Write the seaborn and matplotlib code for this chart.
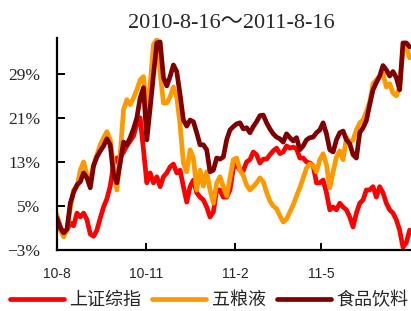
import matplotlib
matplotlib.use("Agg")
import matplotlib.pyplot as plt
from matplotlib.lines import Line2D
import seaborn as sns
import pandas as pd
import numpy as np

series_names = ["上证综指", "五粮液", "食品饮料"]
colors = ["#FF0000", "#FF9900", "#800000"]

sh_index = [3.0, 1.2, -0.1, 0.6, 1.9, 1.4, 3.7, 3.0, 3.7, 2.5, -0.1, -0.5, 0.6, 2.8, 4.8, 6.3, 8.6, 12.5, 13.7, 13.9,
            14.8, 15.9, 16.8, 17.7, 19.9, 21.0, 15.2, 9.2, 11.0, 9.2, 10.3, 8.5, 10.3, 11.0, 12.1, 12.6, 11.0, 11.5, 8.5, 5.7,
            8.5, 9.7, 7.4, 6.6, 6.1, 4.8, 3.0, 3.9, 7.9, 7.9, 6.6, 6.6, 7.9, 11.9, 12.5, 11.5, 11.4, 13.0, 13.4, 14.8,
            14.3, 12.8, 13.5, 13.5, 14.3, 15.0, 15.5, 14.5, 14.8, 15.9, 15.5, 15.7, 15.4, 13.7, 13.7, 13.0, 12.8, 12.3, 9.2, 9.2,
            9.7, 7.4, 4.3, 4.8, 4.3, 5.5, 4.8, 4.3, 3.0, 1.2, 3.7, 5.5, 6.1, 7.9, 7.9, 8.5, 6.6, 8.5, 7.4, 5.5,
            4.3, 3.7, 2.5, 0.6, -2.5, -1.7, 0.6]

wuliangye = [3.4, 0.6, -0.6, 0.6, 4.6, 7.9, 8.5, 11.5, 13.0, 10.6, 9.7, 12.5, 14.3, 16.1, 17.4, 18.5, 17.0, 12.5, 7.9, 14.3,
             22.5, 24.3, 23.4, 24.6, 26.1, 27.9, 28.5, 22.5, 27.0, 34.3, 35.2, 29.2, 23.7, 23.7, 24.8, 26.6, 24.8, 19.7, 12.8, 11.2,
             15.2, 13.7, 7.9, 11.5, 8.6, 11.2, 7.9, 5.5, 9.2, 10.3, 8.5, 6.8, 10.1, 13.4, 13.7, 11.5, 10.5, 8.8, 7.9, 8.5,
             9.2, 10.1, 9.4, 7.5, 5.9, 5.0, 4.5, 3.2, 2.1, 2.6, 3.9, 5.2, 6.8, 8.3, 10.1, 11.9, 12.6, 12.3, 11.2, 13.4,
             14.5, 12.5, 8.3, 11.2, 13.9, 15.0, 13.4, 17.4, 16.6, 17.0, 18.8, 20.1, 20.6, 22.1, 23.9, 27.2, 27.9, 28.5, 29.0, 26.6,
             27.2, 25.5, 25.0, 26.5, 33.4, 33.9, 31.9]

food_bev = [2.8, 1.0, 0.1, 0.8, 5.5, 7.5, 8.8, 9.4, 11.0, 10.1, 8.3, 12.3, 13.9, 15.0, 15.9, 17.2, 16.1, 10.6, 9.2, 12.8,
            16.6, 16.1, 17.4, 19.0, 21.0, 24.6, 26.5, 17.0, 22.8, 28.8, 34.6, 34.8, 28.3, 26.8, 28.5, 30.6, 29.4, 25.2, 20.6, 19.5,
            20.6, 20.3, 18.3, 16.1, 16.1, 15.2, 11.2, 11.5, 13.7, 13.5, 13.9, 17.0, 18.8, 19.4, 19.9, 20.1, 19.0, 19.2, 18.3, 19.4,
            20.3, 21.4, 21.5, 20.1, 19.0, 18.1, 17.5, 17.2, 16.6, 18.1, 17.4, 16.8, 17.4, 15.2, 15.9, 17.0, 17.4, 17.5, 18.3, 18.8,
            20.1, 18.1, 15.2, 14.8, 17.0, 18.3, 18.6, 17.0, 16.3, 14.3, 13.7, 18.3, 19.2, 20.5, 23.4, 26.1, 27.4, 28.6, 30.5, 29.7,
            28.6, 29.4, 28.3, 26.1, 34.6, 34.6, 33.9]

dates = pd.date_range("2010-08-16", "2011-08-15", periods=len(sh_index))
ytick_vals = [-3, 5, 13, 21, 29]
ytick_labels = ["\u22123%", "5%", "13%", "21%", "29%"]
xtick_dates = ["2010-08-16", "2010-11-16", "2011-02-16", "2011-05-16"]
xtick_labels = ["10-8", "10-11", "11-2", "11-5"]
title = "2010-8-16～2011-8-16"

df = pd.concat([
    pd.DataFrame({"date": dates, "value": vals, "series": name})
    for name, vals in zip(series_names, [sh_index, wuliangye, food_bev])
], ignore_index=True)

sns.set_style("white")
plt.rcParams["font.family"] = ["Liberation Serif", "Noto Sans CJK SC", "DejaVu Sans"]

fig = plt.figure(figsize=(4.11, 3.11), dpi=100)
ax = fig.add_axes([57 / 411, 1 - 250 / 311, 1 - 57 / 411 - 0.001, (250 - 38) / 311])

sns.lineplot(data=df, x="date", y="value", hue="series", hue_order=series_names,
             palette=colors, linewidth=3.4, ax=ax, legend=False, estimator=None)

ax.set_xlim(pd.Timestamp("2010-08-16"), pd.Timestamp("2011-08-16"))
ax.set_ylim(-3, 35.5)
ax.set_yticks(ytick_vals)
ax.set_yticklabels(ytick_labels, fontsize=12.5, family=["Liberation Serif", "DejaVu Sans"])
ax.set_xticks([pd.Timestamp(d) for d in xtick_dates])
ax.set_xticklabels(xtick_labels, fontsize=10, family=["Liberation Sans"])
ax.set_xlabel("")
ax.set_ylabel("")

for s in ["top", "right"]:
    ax.spines[s].set_visible(False)
for s in ["left", "bottom"]:
    ax.spines[s].set_color("black")
    ax.spines[s].set_linewidth(1.6)
ax.tick_params(axis="y", direction="in", length=6, width=1.4, color="black", pad=12, left=True)
ax.tick_params(axis="x", direction="in", length=5, width=1.4, color="black", pad=12, bottom=True)
ax.grid(False)

fig.text(231 / 411, 1 - 23.5 / 311, title, ha="center", va="center", fontsize=16,
         family=["Liberation Serif", "Noto Sans CJK SC"])

handles = [Line2D([0], [0], color=c, linewidth=3.4) for c in colors]
fig.legend(handles, series_names, loc="center", bbox_to_anchor=(209 / 411, 1 - 300 / 311),
           ncol=3, frameon=False, handlelength=3.0, handletextpad=0.3, columnspacing=0.6,
           borderpad=0, prop={"family": ["Noto Sans CJK SC"], "size": 13})

fig.savefig("out.png", dpi=100)
